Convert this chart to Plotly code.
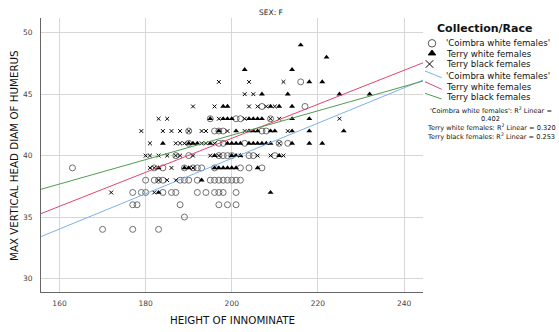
import plotly.graph_objects as go

# ---------------- data ----------------
coimbra_x = [216,
             207, 217,
             195, 201, 202, 209,
             190, 196, 197, 198, 207, 208,
             190, 197, 198, 203, 211, 213,
             187, 190, 197, 198, 199, 200, 204, 205, 210,
             163, 182, 184, 189, 191, 192, 193, 196, 202, 204, 207,
             180, 182, 183, 184, 188, 189, 190, 192, 195, 196, 197, 198, 199, 200, 201, 202,
             177, 179, 180, 184, 186, 187, 192, 194, 196, 197, 198, 201,
             177, 178, 188, 197, 199, 201,
             189,
             170, 177, 183]
coimbra_y = [46,
             44, 44,
             43, 43, 43, 43,
             42, 42, 42, 42, 42, 42,
             41, 41, 41, 41, 41, 41,
             40, 40, 40, 40, 40, 40, 40, 40, 40,
             39, 39, 39, 39, 39, 39, 39, 39, 39, 39, 39,
             38, 38, 38, 38, 38, 38, 38, 38, 38, 38, 38, 38, 38, 38, 38, 38,
             37, 37, 37, 37, 37, 37, 37, 37, 37, 37, 37, 37,
             36, 36, 36, 36, 36, 36,
             35,
             34, 34, 34]

terry_white_x = [216,
                 222,
                 203, 214,
                 218, 221,
                 207, 213, 225, 232,
                 198, 199, 209, 211, 214,
                 195, 198, 199, 200, 204, 205, 206, 207, 214, 218,
                 197, 201, 204, 205, 206, 209, 210, 214, 218, 226,
                 184, 190, 191, 192, 195, 199, 200, 201, 202, 204, 205, 206, 207, 208, 209, 214, 218, 221,
                 196, 200, 201, 202, 211,
                 183, 189, 190, 196, 197, 198, 199, 200, 201, 206,
                 193,
                 183, 209]
terry_white_y = [49,
                 48,
                 47, 47,
                 46, 46,
                 45, 45, 45, 45,
                 44, 44, 44, 44, 44,
                 43, 43, 43, 43, 43, 43, 43, 43, 43, 43,
                 42, 42, 42, 42, 42, 42, 42, 42, 42, 42,
                 41, 41, 41, 41, 41, 41, 41, 41, 41, 41, 41, 41, 41, 41, 41, 41, 41, 41,
                 40, 40, 40, 40, 40,
                 39, 39, 39, 39, 39, 39, 39, 39, 39, 39,
                 38,
                 37, 37]

terry_black_x = [197, 204, 212,
                 203, 205,
                 191, 196, 204, 206, 208, 210,
                 183, 185, 197, 203, 209, 211, 225,
                 179, 184, 186, 188, 190, 193, 194, 199, 203, 213,
                 181, 187, 188, 189, 193, 194, 196, 211,
                 180, 181, 183, 185, 187, 188, 191, 195, 197, 202, 206, 209, 212,
                 181, 182, 186, 191,
                 183, 185, 187,
                 172, 182]
terry_black_y = [46, 46, 46,
                 45, 45,
                 44, 44, 44, 44, 44, 44,
                 43, 43, 43, 43, 43, 43, 43,
                 42, 42, 42, 42, 42, 42, 42, 42, 42, 42,
                 41, 41, 41, 41, 41, 41, 41, 41,
                 40, 40, 40, 40, 40, 40, 40, 40, 40, 40, 40, 40, 40,
                 39, 39, 39, 39,
                 38, 38, 38,
                 37, 37]

group_names = ["'Coimbra white females'", "Terry white females", "Terry black females"]
fit_slope = [0.1436, 0.1384, 0.0993]
fit_intercept = [11.05, 13.73, 21.80]
r2_values = ["0.402", "0.320", "0.253"]

x_ticks = [160, 180, 200, 220, 240]
y_ticks = [30, 35, 40, 45, 50]

# ---------------- layout constants ----------------
W, H = 559, 332
PX0, PX1, PY0, PY1 = 41, 423, 18, 292   # plot area in pixels
X_RANGE = [155.7, 244.4]
Y_RANGE = [28.9, 51.2]
FONT = "DejaVu Sans"

line_colors = ["#7db1ec", "#e5446d", "#4f9d4f"]

fig = go.Figure()

fig.add_trace(go.Scatter(x=coimbra_x, y=coimbra_y, mode="markers",
                         marker=dict(symbol="circle-open", size=6, color="#707070",
                                     line=dict(width=1, color="#707070")),
                         showlegend=False))
fig.add_trace(go.Scatter(x=terry_white_x, y=terry_white_y, mode="markers",
                         marker=dict(symbol="triangle-up", size=5.2, color="black"),
                         showlegend=False))
fig.add_trace(go.Scatter(x=terry_black_x, y=terry_black_y, mode="markers",
                         marker=dict(symbol="x-thin-open", size=3.8, color="black",
                                     line=dict(width=1, color="black")),
                         showlegend=False))

for s, b, c in zip(fit_slope, fit_intercept, line_colors):
    xs = [X_RANGE[0], X_RANGE[1]]
    fig.add_trace(go.Scatter(x=xs, y=[b + s * v for v in xs], mode="lines",
                             line=dict(color=c, width=1), showlegend=False))

# ---------------- custom legend in pixel space (x2/y2) ----------------
leg_sym = [("circle-open", 7.5, "#555555"), ("triangle-up", 6.5, "black"), ("x-thin-open", 7.5, "black")]
leg_sym_x = [432, 432, 429.5]
leg_sym_y = [43.3, 53.3, 64]
for (sym, sz, col), lx, ly in zip(leg_sym, leg_sym_x, leg_sym_y):
    fig.add_trace(go.Scatter(x=[lx], y=[ly], mode="markers", xaxis="x2", yaxis="y2",
                             marker=dict(symbol=sym, size=sz, color=col,
                                         line=dict(width=1, color=col)),
                             showlegend=False))
leg_line_px = [((425, 71), (441.7, 77.7)), ((425, 81.7), (441.7, 89.3)), ((425, 93.3), (441.7, 99))]
for (p0, p1), c in zip(leg_line_px, line_colors):
    fig.add_trace(go.Scatter(x=[p0[0], p1[0]], y=[p0[1], p1[1]], mode="lines",
                             xaxis="x2", yaxis="y2", line=dict(color=c, width=1),
                             showlegend=False))

ann = []
def txt(x, y, t, size, xanchor="left", color="#111", angle=0, bold=False, family=FONT):
    ann.append(dict(x=x, y=y, xref="x2", yref="y2", text=(f"<b>{t}</b>" if bold else t),
                    showarrow=False, xanchor=xanchor, yanchor="middle", textangle=angle,
                    font=dict(family=family, size=size, color=color)))

txt(484, 28.3, "Collection/Race", 11, xanchor="center", bold=True)
leg_text_y = [43.3, 53.7, 64.3, 76, 86.7, 96.7]
for i, ty in enumerate(leg_text_y):
    txt(443.5, ty, group_names[i % 3], 8.6)
txt(490.5, 110, f"{group_names[0]}: R<sup>2</sup> Linear =", 6.6, xanchor="center")
txt(490.5, 118.5, r2_values[0], 6.6, xanchor="center")
txt(491, 127.7, f"{group_names[1]}: R<sup>2</sup> Linear = {r2_values[1]}", 6.6, xanchor="center")
txt(491, 136.3, f"{group_names[2]}: R<sup>2</sup> Linear = {r2_values[2]}", 6.6, xanchor="center")

txt(271, 12, "SEX: F", 7.5, xanchor="center", color="#222")
txt(232, 320, "HEIGHT OF INNOMINATE", 10.3, xanchor="center", color="#111")
txt(14, 156, "MAX VERTICAL HEAD DIAM OF HUMERUS", 10.3, xanchor="center", angle=-90, color="#111")

fig.update_layout(
    width=W, height=H,
    margin=dict(l=0, r=0, t=0, b=0, pad=0),
    paper_bgcolor="white", plot_bgcolor="rgba(0,0,0,0)",
    font=dict(family=FONT),
    annotations=ann,
    xaxis=dict(domain=[PX0 / W, PX1 / W], range=X_RANGE, tickvals=x_ticks,
               showgrid=True, gridcolor="#d6d6d6", gridwidth=1, zeroline=False,
               showline=True, linecolor="#666666", linewidth=1, ticks="",
               tickfont=dict(family=FONT, size=7.5, color="#444"), ticklabelstandoff=4,
               automargin=False),
    yaxis=dict(domain=[(H - PY1) / H, (H - PY0) / H], range=Y_RANGE, tickvals=y_ticks,
               showgrid=True, gridcolor="#d6d6d6", gridwidth=1, zeroline=False,
               showline=True, linecolor="#666666", linewidth=1, ticks="",
               tickfont=dict(family=FONT, size=7.5, color="#444"), ticklabelstandoff=6,
               automargin=False),
    xaxis2=dict(domain=[0, 1], range=[0, W], visible=False, anchor="y2", fixedrange=True),
    yaxis2=dict(domain=[0, 1], range=[H, 0], visible=False, anchor="x2", fixedrange=True),
)

fig.write_html("out.html", config={"displayModeBar": False},
               post_script="document.body.style.margin='0';")
